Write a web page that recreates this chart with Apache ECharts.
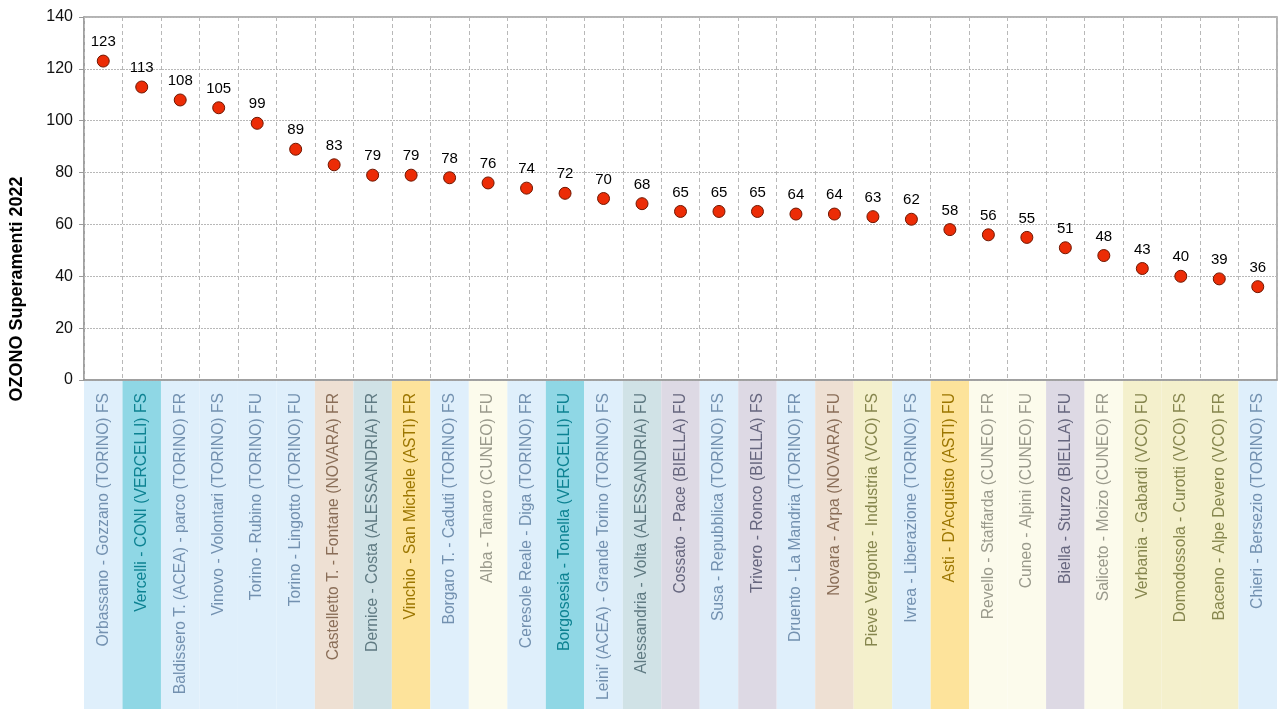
<!DOCTYPE html>
<html>
<head>
<meta charset="utf-8">
<script src="https://cdn.jsdelivr.net/npm/echarts@6/dist/echarts.min.js"></script>
<style>
  html, body { margin: 0; padding: 0; background: #fff; }
  #chart { width: 1280px; height: 709px; }
</style>
</head>
<body>
<div id="chart"></div>
<script>
const stations = [
  'Orbassano - Gozzano (TORINO) FS',
  'Vercelli - CONI (VERCELLI) FS',
  'Baldissero T. (ACEA) - parco (TORINO) FR',
  'Vinovo - Volontari (TORINO) FS',
  'Torino - Rubino (TORINO) FU',
  'Torino - Lingotto (TORINO) FU',
  'Castelletto T. - Fontane (NOVARA) FR',
  'Dernice - Costa (ALESSANDRIA) FR',
  'Vinchio - San Michele (ASTI) FR',
  'Borgaro T. - Caduti (TORINO) FS',
  'Alba - Tanaro (CUNEO) FU',
  'Ceresole Reale - Diga (TORINO) FR',
  'Borgosesia - Tonella (VERCELLI) FU',
  "Leini' (ACEA) - Grande Torino (TORINO) FS",
  'Alessandria - Volta (ALESSANDRIA) FU',
  'Cossato - Pace (BIELLA) FU',
  'Susa - Repubblica (TORINO) FS',
  'Trivero - Ronco (BIELLA) FS',
  'Druento - La Mandria (TORINO) FR',
  'Novara - Arpa (NOVARA) FU',
  'Pieve Vergonte - Industria (VCO) FS',
  'Ivrea - Liberazione (TORINO) FS',
  "Asti - D'Acquisto (ASTI) FU",
  'Revello - Staffarda (CUNEO) FR',
  'Cuneo - Alpini (CUNEO) FU',
  'Biella - Sturzo (BIELLA) FU',
  'Saliceto - Moizo (CUNEO) FR',
  'Verbania - Gabardi (VCO) FU',
  'Domodossola - Curotti (VCO) FS',
  'Baceno - Alpe Devero (VCO) FR',
  'Chieri - Bersezio (TORINO) FS'
]

const superamenti = [123, 113, 108, 105, 99, 89, 83, 79, 79, 78, 76, 74, 72, 70, 68,
  65, 65, 65, 64, 64, 63, 62, 58, 56, 55, 51, 48, 43, 40, 39, 36]

const yTicks = [0, 20, 40, 60, 80, 100, 120, 140]

// colori per provincia: [sfondo, testo]
const provColors = {
  TORINO: ['#dfeffb', '#7391b0'],
  VERCELLI: ['#8fd7e5', '#0d8292'],
  NOVARA: ['#eee0d3', '#8a6e58'],
  ALESSANDRIA: ['#d0e2e6', '#5f7a82'],
  ASTI: ['#fde39b', '#9c7600'],
  CUNEO: ['#fcfbec', '#9a9a8c'],
  BIELLA: ['#ddd9e4', '#66667e'],
  VCO: ['#f4f0cc', '#86864e']
}

function colorsOf(name) {
  const m = String(name).match(/\(([A-Z]+)\)/)
  return provColors[m ? m[1] : 'TORINO'] || provColors.TORINO
}

const chart = echarts.init(document.getElementById('chart'))

chart.setOption({
  animation: false,
  textStyle: { fontFamily: 'Liberation Sans, Arial, sans-serif' },
  graphic: [{
    type: 'text',
    x: 17,
    y: 289,
    rotation: Math.PI / 2,
    style: {
      text: 'OZONO Superamenti 2022',
      font: 'bold 18px "Liberation Sans", Arial, sans-serif',
      fill: '#000',
      align: 'center',
      verticalAlign: 'middle'
    }
  }],
  grid: [
    { left: 84, right: 3, top: 17, bottom: 329, show: true, borderColor: '#9a9a9a', borderWidth: 1.5 },
    { left: 84, right: 3, top: 381, bottom: 0 }
  ],
  xAxis: [{
    type: 'category',
    gridIndex: 0,
    data: stations,
    boundaryGap: true,
    z: 5,
    axisLine: { lineStyle: { color: '#9a9a9a', width: 1.5 } },
    axisTick: { show: false },
    splitLine: { show: true, lineStyle: { color: '#b8b8b8', type: [4, 3], width: 1 } },
    axisLabel: {
      rotate: 90,
      interval: 0,
      margin: 13,
      fontSize: 15.7,
      color: (value, index) => {
        const name = stations.indexOf(value) >= 0 ? value : stations[index]
        return colorsOf(name)[1]
      }
    }
  }, {
    type: 'category',
    gridIndex: 1,
    data: stations,
    show: false
  }],
  yAxis: [{
    type: 'value',
    gridIndex: 0,
    min: yTicks[0],
    max: yTicks[yTicks.length - 1],
    interval: 20,
    axisLine: { show: true, lineStyle: { color: '#9a9a9a', width: 1.5 } },
    axisTick: { show: true, length: 5, lineStyle: { color: '#9a9a9a' } },
    axisLabel: { fontSize: 16, color: '#111', margin: 11 },
    splitLine: { lineStyle: { color: '#b8b8b8', type: [2, 1] } }
  }, {
    type: 'value',
    gridIndex: 1,
    min: 0,
    max: 1,
    show: false
  }],
  series: [{
    type: 'bar',
    xAxisIndex: 1,
    yAxisIndex: 1,
    barWidth: '100%',
    z: 0,
    silent: true,
    data: stations.map((s) => ({
      value: 1,
      itemStyle: { color: colorsOf(s)[0] }
    }))
  }, {
    type: 'scatter',
    xAxisIndex: 0,
    yAxisIndex: 0,
    z: 10,
    symbolSize: 12,
    itemStyle: { color: '#ec2c06', borderColor: '#6e1600', borderWidth: 1, opacity: 1 },
    label: {
      show: true,
      position: 'top',
      distance: 5,
      fontSize: 15,
      color: '#000'
    },
    data: superamenti
  }]
})
</script>
</body>
</html>
